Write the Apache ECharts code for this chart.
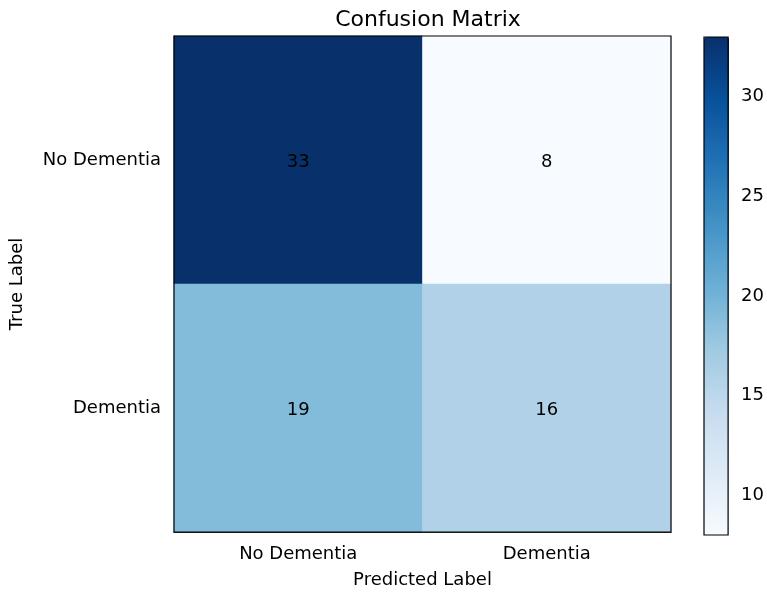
<!DOCTYPE html>
<html>
<head>
<meta charset="utf-8">
<script src="https://cdn.jsdelivr.net/npm/echarts@6/dist/echarts.min.js"></script>
<style>
  html, body { margin: 0; padding: 0; background: #fff; }
  #main { width: 767px; height: 594px; }
</style>
</head>
<body>
<div id="main"></div>
<script>
// 类别和数值
var predLabels = ['No Dementia', 'Dementia'];
var trueLabels = ['No Dementia', 'Dementia'];
var counts = [
    [33, 8],
    [19, 16]
];
var cbTicks = [10, 15, 20, 25, 30];
var cbMin = 8;
var cbMax = 33;

// matplotlib Blues
var blues = ['#f7fbff', '#deebf7', '#c6dbef', '#9ecae1', '#6baed6',
             '#4292c6', '#2171b5', '#08519c', '#08306b'];

var cells = [];
for (var i = 0; i < trueLabels.length; i++) {
    for (var j = 0; j < predLabels.length; j++) {
        cells.push([j, i, counts[i][j]]);
    }
}

var font = 'DejaVu Sans';
var fs = 18;
var chart = echarts.init(document.getElementById('main'));
var option = {
    animation: false,
    title: {
        text: 'Confusion Matrix',
        left: 423, top: 4,
        textAlign: 'center',
        textStyle: { fontFamily: font, fontSize: 22, fontWeight: 'normal', color: '#000' }
    },
    grid: [
        { left: 174, top: 36, width: 497, height: 499, show: true, borderColor: '#000', borderWidth: 1.2, z: 10 },
        { left: 704, top: 37, width: 25, height: 498, show: true, borderColor: '#000', borderWidth: 1.2, z: 10 }
    ],
    xAxis: [
        {
            type: 'category', data: predLabels, gridIndex: 0,
            name: 'Predicted Label', nameLocation: 'middle', nameGap: 39,
            nameTextStyle: { fontFamily: font, fontSize: fs, color: '#000' },
            axisLine: { lineStyle: { color: '#000', width: 1.2 } },
            axisTick: { alignWithLabel: true, length: 5, lineStyle: { color: '#000' } },
            axisLabel: { fontFamily: font, fontSize: fs, color: '#000', margin: 13 },
            splitLine: { show: false }
        },
        { type: 'value', gridIndex: 1, show: false, min: 0, max: 1 }
    ],
    yAxis: [
        {
            type: 'category', data: trueLabels, gridIndex: 0, inverse: true,
            name: 'True Label', nameLocation: 'middle', nameGap: 148, nameRotate: 90,
            nameTextStyle: { fontFamily: font, fontSize: fs, color: '#000' },
            axisLine: { lineStyle: { color: '#000', width: 1.2 } },
            axisTick: { alignWithLabel: true, length: 5, lineStyle: { color: '#000' } },
            axisLabel: { fontFamily: font, fontSize: fs, color: '#000', margin: 13, padding: [4, 0, 0, 0] },
            splitLine: { show: false }
        },
        {
            type: 'value', gridIndex: 1, position: 'right', min: cbMin, max: cbMax,
            axisLine: { show: false },
            axisTick: { show: true, length: 5, customValues: cbTicks, lineStyle: { color: '#000' } },
            axisLabel: { fontFamily: font, fontSize: fs, color: '#000', margin: 13, padding: [4, 0, 0, 0], customValues: cbTicks },
            splitLine: { show: false }
        }
    ],
    visualMap: {
        type: 'continuous',
        seriesIndex: 0,
        min: cbMin, max: cbMax,
        calculable: false,
        orient: 'vertical',
        left: 704, top: 37,
        itemWidth: 25, itemHeight: 498,
        padding: 0,
        text: null,
        showLabel: false,
        inRange: { color: blues },
        hoverLink: false
    },
    series: [{
        type: 'heatmap',
        xAxisIndex: 0, yAxisIndex: 0,
        data: cells,
        label: { show: true, fontFamily: font, fontSize: fs, color: '#000', offset: [0, 2] },
        itemStyle: { borderWidth: 0 }
    }]
};
chart.setOption(option);
</script>
</body>
</html>
